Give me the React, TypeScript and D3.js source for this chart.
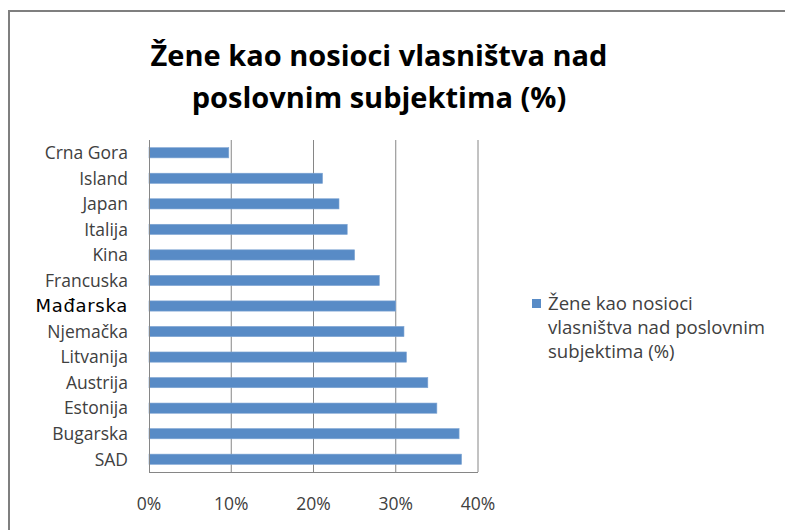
import React, { useEffect, useRef } from 'react';
import * as d3 from 'd3';

// chart data
const categories = [
  'Crna Gora', 'Island', 'Japan', 'Italija', 'Kina', 'Francuska', 'Mađarska',
  'Njemačka', 'Litvanija', 'Austrija', 'Estonija', 'Bugarska', 'SAD',
];
const values = [9.7, 21.1, 23.1, 24.1, 25.0, 28.0, 30.0, 31.0, 31.3, 33.9, 35.0, 37.7, 38.0];
const xTicks = [0, 10, 20, 30, 40];
const titleLines = ['Žene kao nosioci vlasništva nad', 'poslovnim subjektima (%)'];
const legendLines = ['Žene kao nosioci', 'vlasništva nad poslovnim', 'subjektima (%)'];

const W = 785;
const H = 530;
const FONT = "'Open Sans', 'Noto Sans', sans-serif";

export default function App() {
  const svgRef = useRef<SVGSVGElement>(null);

  useEffect(() => {
    const svg = d3.select(svgRef.current);
    svg.selectAll('*').remove();

    // outer frame
    svg.append('rect')
      .attr('x', 0).attr('y', 0).attr('width', W).attr('height', H)
      .attr('fill', '#ffffff');
    svg.append('path')
      .attr('d', `M9,${H + 5} V11 H${W + 5}`)
      .attr('fill', 'none')
      .attr('stroke', '#7f7f7f')
      .attr('stroke-width', 2);

    // title
    const title = svg.append('text')
      .attr('text-anchor', 'middle')
      .attr('font-family', FONT)
      .attr('font-weight', 700)
      .attr('font-size', 29)
      .attr('fill', '#000');
    titleLines.forEach((t, i) => {
      title.append('tspan')
        .attr('x', 379)
        .attr('y', 66 + i * 42)
        .text(t);
    });

    const x = d3.scaleLinear().domain([0, 40]).range([149, 478]);
    const y = d3.scaleBand<string>()
      .domain(categories)
      .range([140, 472])
      .paddingInner(0.6)
      .paddingOuter(0.3);

    const g = svg.append('g');

    // gridlines
    g.selectAll('.grid')
      .data(xTicks.slice(1))
      .enter()
      .append('line')
      .attr('x1', d => x(d)).attr('x2', d => x(d))
      .attr('y1', 140).attr('y2', 472)
      .attr('stroke', '#868686')
      .attr('stroke-width', 1);

    // bars
    g.selectAll('.bar')
      .data(values)
      .enter()
      .append('rect')
      .attr('x', x(0))
      .attr('y', (d, i) => y(categories[i]) as number)
      .attr('width', d => x(d) - x(0))
      .attr('height', y.bandwidth())
      .attr('fill', '#588bc6')
      .attr('stroke', '#7fa5d3')
      .attr('stroke-width', 0.6);

    // axes lines
    g.append('line')
      .attr('x1', x(0) + 0.5).attr('x2', x(0) + 0.5)
      .attr('y1', 140).attr('y2', 472)
      .attr('stroke', '#868686');
    g.append('line')
      .attr('x1', x(0)).attr('x2', x(40))
      .attr('y1', 472.5).attr('y2', 472.5)
      .attr('stroke', '#868686');

    // category labels
    g.selectAll('.cat')
      .data(categories)
      .enter()
      .append('text')
      .attr('x', 128)
      .attr('y', d => (y(d) as number) + y.bandwidth() / 2)
      .attr('dy', '0.36em')
      .attr('text-anchor', 'end')
      .attr('font-family', d => (d === 'Mađarska' ? "'DejaVu Sans', Verdana, sans-serif" : FONT))
      .attr('font-size', d => (d === 'Mađarska' ? 18 : 17.5))
      .attr('letter-spacing', d => (d === 'Mađarska' ? 0.7 : 0))
      .attr('fill', d => (d === 'Mađarska' ? '#000' : '#404040'))
      .text(d => d);

    // x tick labels
    g.selectAll('.tick')
      .data(xTicks)
      .enter()
      .append('text')
      .attr('x', d => x(d))
      .attr('y', 510)
      .attr('text-anchor', 'middle')
      .attr('font-family', FONT)
      .attr('font-size', 17.5)
      .attr('fill', '#404040')
      .text(d => `${d}%`);

    // legend
    svg.append('rect')
      .attr('x', 532).attr('y', 299)
      .attr('width', 9).attr('height', 9)
      .attr('fill', '#588bc6');
    const leg = svg.append('text')
      .attr('font-family', FONT)
      .attr('font-size', 18.6)
      .attr('fill', '#404040');
    legendLines.forEach((t, i) => {
      leg.append('tspan')
        .attr('x', 548)
        .attr('y', 310 + i * 24)
        .text(t);
    });
  }, []);

  return (
    <svg
      ref={svgRef}
      width={W}
      height={H}
      style={{ position: 'absolute', left: 0, top: 0 }}
    />
  );
}
